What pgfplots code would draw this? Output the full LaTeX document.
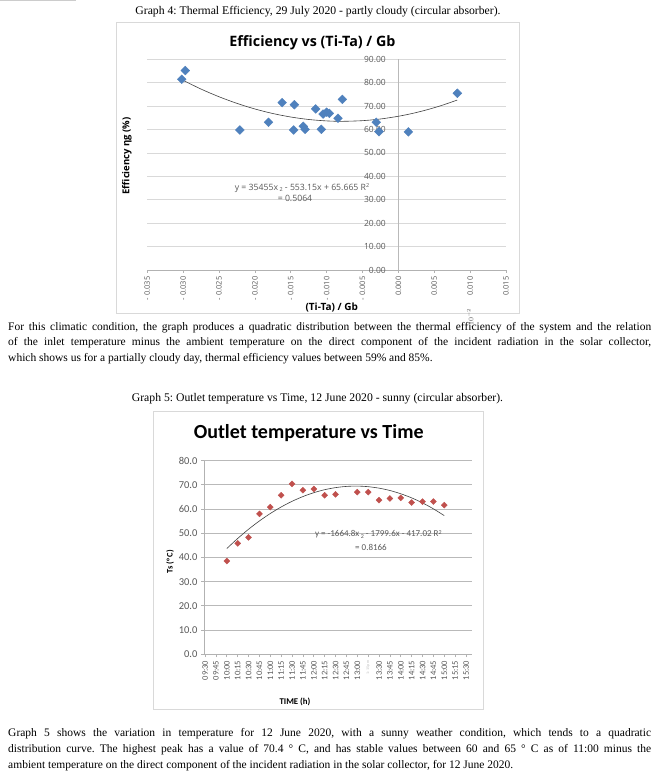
\documentclass[border=0pt]{standalone}
\usepackage{pgfplots}
\pgfplotsset{compat=1.18}
\usepackage{fontspec}
\setmainfont{Liberation Serif}
\newfontfamily\osans{Open Sans}
\newfontfamily\carl{Carlito}
\definecolor{xlblue}{HTML}{4F81BD}
\definecolor{xlred}{HTML}{C0504D}
\definecolor{axgray}{HTML}{595959}
\definecolor{trend}{HTML}{404040}
\frenchspacing
\begin{document}
\begin{tikzpicture}[x=1pt,y=1pt]
\fill[white] (0,0) rectangle (657,779);
\path[use as bounding box] (0,0) rectangle (657,779);
\draw[gray!40, line width=0.6pt] (0,778.6) -- (76,778.6);
% ---------------- Graph 4 ----------------
\node[font=\fontsize{11.7}{13}\selectfont] at (318,767) {Graph 4: Thermal Efficiency, 29 July 2020 - partly cloudy (circular absorber).};
\draw[gray!30, line width=0.8pt] (116,466) rectangle (519,757);
\node[font=\osans\bfseries\fontsize{14.3}{16}\selectfont] at (312.5,736) {Efficiency vs (Ti-Ta) / Gb};
\node[rotate=90, font=\osans\bfseries\fontsize{9.5}{11}\selectfont] at (127,623) {Efficiency ηg (\%)};
\node[font=\osans\bfseries\fontsize{10}{12}\selectfont] at (331.7,471.5) {(Ti-Ta) / Gb};
\begin{axis}[at={(147.3pt,509pt)}, anchor=south west, scale only axis,
  width=358.7pt, height=210.7pt,
  xmin=-0.035, xmax=0.015, ymin=0, ymax=90,
  axis x line*=bottom, axis y line*=left,
  x axis line style={gray!60, line width=0.8pt},
  y axis line style={draw=none},
  xtick={-0.035,-0.03,-0.025,-0.02,-0.015,-0.01,-0.005,0,0.005,0.01,0.015},
  xticklabels={- 0.035,- 0.030,- 0.025,- 0.020,- 0.015,- 0.010,- 0.005,0.000,0.005,0.010,0.015},
  xticklabel style={rotate=90, anchor=east, font=\osans\fontsize{7.5}{8}\selectfont, text=axgray},
  tick align=outside, major tick length=3pt,
  xtick style={gray!60, line width=0.8pt},
  ytick={0,10,20,30,40,50,60,70,80,90},
  yticklabels={0.00,10.00,20.00,30.00,40.00,50.00,60.00,70.00,80.00,90.00},
  ytick style={draw=none},
  yticklabel style={font=\osans\fontsize{8.5}{9}\selectfont, text=axgray, anchor=east, xshift=245pt},
  ymajorgrids, grid style={gray!30, line width=0.8pt},
  clip=false]
\draw[gray!55, line width=0.8pt] (axis cs:0,0) -- (axis cs:0,90);
\addplot[only marks, mark=square*, mark size=3.1pt, mark options={rotate=45, fill=xlblue, draw=xlblue}] coordinates {
(-0.0302,81.5) (-0.0297,85.2) (-0.0221,59.8) (-0.0181,63.1) (-0.0162,71.5)
(-0.0146,59.8) (-0.0145,70.6) (-0.01325,61.4) (-0.0130,60.1) (-0.01153,68.8)
(-0.01074,60.1) (-0.0105,66.6) (-0.0100,67.4) (-0.00963,66.9) (-0.00842,64.8)
(-0.00781,72.9) (-0.00308,63.1) (-0.0027,59.1) (0.00139,59.0) (0.00822,75.5)};
\addplot[smooth, trend, line width=0.6pt, no marks] coordinates {
(-0.0302,81.30) (-0.0275,77.27) (-0.025,74.00) (-0.0225,71.17) (-0.020,68.78)
(-0.0175,66.84) (-0.015,65.35) (-0.0125,64.29) (-0.010,63.68) (-0.0078,63.51)
(-0.005,63.79) (-0.0025,64.50) (0,65.67) (0.002,66.91) (0.004,68.45) (0.006,70.26) (0.0082,72.59)};
\end{axis}
\node[font=\osans\fontsize{8.7}{10}\selectfont, text=axgray] at (302,591.3) {y = 35455x\,\raisebox{-0.3ex}{\fontsize{5.5}{5.5}\selectfont 2} - 553.15x + 65.665 R\raisebox{0.6ex}{\fontsize{5.5}{5.5}\selectfont 2}};
\node[font=\osans\fontsize{8.7}{10}\selectfont, text=axgray] at (295,580.2) {= 0.5064};
% ---------------- paragraph 1 ----------------
\node[anchor=north west, inner sep=0pt, text width=643pt, align=justify, font=\fontsize{11.5}{15.2}\selectfont] at (8,456.5) {For this climatic condition, the graph produces a quadratic distribution between the thermal efficiency of the system and the relation\linebreak of the inlet temperature minus the ambient temperature on the direct component of the incident radiation in the solar collector,\linebreak which shows us for a partially cloudy day, thermal efficiency values between 59\% and 85\%.};
% ---------------- Graph 5 ----------------
\node[font=\fontsize{11.7}{13}\selectfont] at (317.5,380) {Graph 5: Outlet temperature vs Time, 12 June 2020 - sunny (circular absorber).};
\draw[gray!30, line width=0.8pt] (153,70) rectangle (483,368);
\node[font=\carl\bfseries\fontsize{20}{22}\selectfont] at (308.7,345.7) {Outlet temperature vs Time};
\node[rotate=90, font=\carl\bfseries\fontsize{8.5}{10}\selectfont] at (170,217.3) {Ts (°\,C)};
\node[font=\carl\bfseries\fontsize{8.8}{10}\selectfont] at (295,77.3) {TIME (h)};
\begin{axis}[at={(204pt,124.8pt)}, anchor=south west, scale only axis,
  width=268pt, height=193.5pt,
  xmin=-0.1, xmax=24.55, ymin=0, ymax=80,
  axis x line*=bottom, axis y line*=left,
  axis line style={gray!60, line width=0.8pt},
  xtick={0,1,2,3,4,5,6,7,8,9,10,11,12,13,14,15,16,17,18,19,20,21,22,23,24},
  xticklabels={09:30,09:45,10:00,10:15,10:30,10:45,11:00,11:15,11:30,11:45,12:00,12:15,12:30,12:45,13:00,{\fontsize{4}{4}\selectfont\color{gray!50}1:15 pm},13:30,13:45,14:00,14:15,14:30,14:45,15:00,15:15,15:30},
  xticklabel style={rotate=90, anchor=east, font=\carl\fontsize{8.5}{9}\selectfont, text=axgray},
  ytick={0,10,20,30,40,50,60,70,80},
  yticklabels={0.0,10.0,20.0,30.0,40.0,50.0,60.0,70.0,80.0},
  yticklabel style={font=\carl\fontsize{10.5}{12}\selectfont, text=axgray},
  tick align=outside, major tick length=3pt,
  tick style={gray!60, line width=0.8pt},
  ymajorgrids, grid style={gray!55, line width=0.8pt},
  clip=false]
\addplot[only marks, mark=square*, mark size=2.1pt, mark options={rotate=45, fill=xlred, draw=xlred}] coordinates {
(2,38.5) (3,45.8) (4,48.3) (5,58.0) (6,60.8) (7,65.7) (8,70.4) (9,67.8) (10,68.3) (11,65.7) (12,66.1)
(14,67.0) (15,67.0) (16,63.7) (17,64.4) (18,64.6) (19,62.7) (20,63.1) (21,63.1) (22,61.6)};
\addplot[smooth, trend, line width=0.6pt, no marks] coordinates {
(2,43.69) (3,47.86) (4,51.67) (5,55.10) (6,58.17) (7,60.88) (8,63.21) (9,65.18) (10,66.78)
(11,68.01) (12,68.87) (13,69.37) (14,69.50) (15,69.26) (16,68.65) (17,67.68) (18,66.33)
(19,64.63) (20,62.55) (21,60.10) (22,57.29)};
\end{axis}
\node[font=\carl\fontsize{9}{10}\selectfont, text=axgray] at (378.3,244.7) {y = -1664.8x\,\raisebox{-0.3ex}{\fontsize{6}{6}\selectfont 2} - 1799.6x - 417.02 R\raisebox{0.6ex}{\fontsize{6}{6}\selectfont 2}};
\node[font=\carl\fontsize{9}{10}\selectfont, text=axgray] at (371,231.3) {= 0.8166};
% ---------------- paragraph 2 ----------------
\node[anchor=north west, inner sep=0pt, text width=643pt, align=justify, font=\fontsize{11.5}{15.8}\selectfont] at (8,50.5) {Graph 5 shows the variation in temperature for 12 June 2020, with a sunny weather condition, which tends to a quadratic\linebreak distribution curve. The highest peak has a value of 70.4 ° C, and has stable values between 60 and 65 ° C as of 11:00 minus the\linebreak ambient temperature on the direct component of the incident radiation in the solar collector, for 12 June 2020.};
\end{tikzpicture}
\end{document}
